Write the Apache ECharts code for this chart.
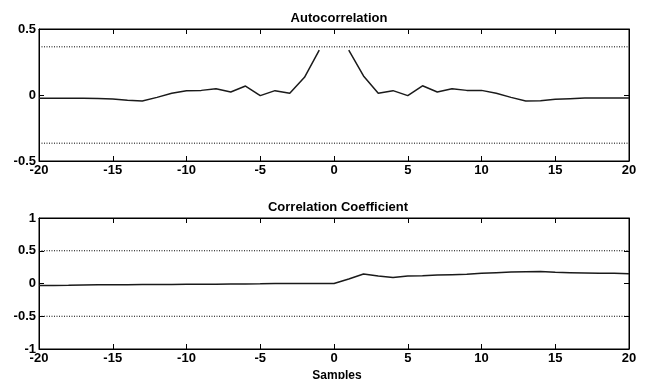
<!DOCTYPE html>
<html>
<head>
<meta charset="utf-8">
<script src="https://cdn.jsdelivr.net/npm/echarts@6/dist/echarts.min.js"></script>
<style>
    html,body{margin:0;padding:0;background:#fff;}
    #main{width:651px;height:379px;}
</style>
</head>
<body>
<div id="main"></div>
<script>
//滞后量 (samples)
let lags = [-20,-19,-18,-17,-16,-15,-14,-13,-12,-11,-10,-9,-8,-7,-6,-5,-4,-3,-2,-1,0,1,2,3,4,5,6,7,8,9,10,11,12,13,14,15,16,17,18,19,20]
//自相关 (lag 0 is off-scale, left as a gap)
let acfValues = [-0.025,-0.025,-0.025,-0.025,-0.027,-0.03,-0.04,-0.045,-0.018,0.013,0.033,0.035,0.048,0.023,0.068,-0.005,0.033,0.013,0.134,0.34,
    null,
    0.34,0.144,0.013,0.033,-0.005,0.07,0.023,0.048,0.035,0.035,0.013,-0.018,-0.045,-0.043,-0.033,-0.028,-0.023,-0.023,-0.023,-0.023]
//相关系数
let ccValues = [-0.03,-0.03,-0.028,-0.022,-0.02,-0.02,-0.018,-0.017,-0.016,-0.015,-0.012,-0.01,-0.01,-0.008,-0.006,-0.005,0,0,0,0,
    0,
    0.07,0.145,0.115,0.09,0.115,0.12,0.13,0.135,0.14,0.155,0.165,0.175,0.18,0.185,0.17,0.165,0.16,0.155,0.155,0.15]
//置信界限
let acfBounds = [0.365,-0.365]
let ccBounds = [0.5,-0.5]
//坐标轴范围
let xRange = [-20,20]
let acfRange = [-0.5,0.5]
let ccRange = [-1,1]

let chart = echarts.init(document.getElementById('main'))

let labelFont = {color:'#000',fontSize:13,fontWeight:'bold',fontFamily:'Liberation Sans, Arial, sans-serif'}
let tick = {show:true,inside:true,length:5,lineStyle:{color:'#000',width:1}}
let line = {show:true,onZero:false,lineStyle:{color:'#000',width:1}}

function xAxes(gridIndex){
    return [
        {type:'value',gridIndex:gridIndex,min:xRange[0],max:xRange[1],interval:5,position:'bottom',
            axisLine:line,axisTick:tick,splitLine:{show:false},
            axisLabel:Object.assign({margin:3},labelFont)},
        {type:'value',gridIndex:gridIndex,min:xRange[0],max:xRange[1],interval:5,position:'top',
            axisLine:line,axisTick:tick,splitLine:{show:false},
            axisLabel:{show:false}}
    ]
}
function yAxes(gridIndex,range){
    return [
        {type:'value',gridIndex:gridIndex,min:range[0],max:range[1],interval:0.5,position:'left',
            axisLine:line,axisTick:tick,splitLine:{show:false},
            axisLabel:Object.assign({margin:3},labelFont)},
        {type:'value',gridIndex:gridIndex,min:range[0],max:range[1],interval:0.5,position:'right',
            axisLine:line,axisTick:tick,splitLine:{show:false},
            axisLabel:{show:false}}
    ]
}

function boundSeries(xi,yi,value){
    return {
        type:'line',xAxisIndex:xi,yAxisIndex:yi,symbol:'none',silent:true,
        lineStyle:{color:'#000',width:1,type:[1,1.5]},
        data:[[xRange[0],value],[xRange[1],value]]
    }
}

let titleFont = {color:'#000',fontSize:13,fontWeight:'bold',fontFamily:'Liberation Sans, Arial, sans-serif'}

let option = {
    backgroundColor:'#fff',
    animation:false,
    title:[
        {text:'Autocorrelation',left:334,top:7,textAlign:'center',textStyle:titleFont},
        {text:'Correlation Coefficient',left:333,top:196,textAlign:'center',textStyle:titleFont},
        {text:'Samples',left:332,top:365,textAlign:'center',textStyle:Object.assign({},titleFont,{fontSize:12})}
    ],
    grid:[
        {left:39,top:29,width:590,height:132,show:true,borderColor:'#000',borderWidth:1,backgroundColor:'#fff'},
        {left:39,top:218,width:590,height:131,show:true,borderColor:'#000',borderWidth:1,backgroundColor:'#fff'}
    ],
    xAxis:xAxes(0).concat(xAxes(1)),
    yAxis:yAxes(0,acfRange).concat(yAxes(1,ccRange)),
    series:[
        boundSeries(0,0,acfBounds[0]),
        boundSeries(0,0,acfBounds[1]),
        {
            type:'line',xAxisIndex:0,yAxisIndex:0,symbol:'none',connectNulls:false,
            lineStyle:{color:'#1a1a1a',width:1.5},
            data:lags.map((x,i) => [x,acfValues[i]])
        },
        boundSeries(2,2,ccBounds[0]),
        boundSeries(2,2,ccBounds[1]),
        {
            type:'line',xAxisIndex:2,yAxisIndex:2,symbol:'none',
            lineStyle:{color:'#1a1a1a',width:1.5},
            data:lags.map((x,i) => [x,ccValues[i]])
        }
    ]
}
chart.setOption(option)
</script>
</body>
</html>
